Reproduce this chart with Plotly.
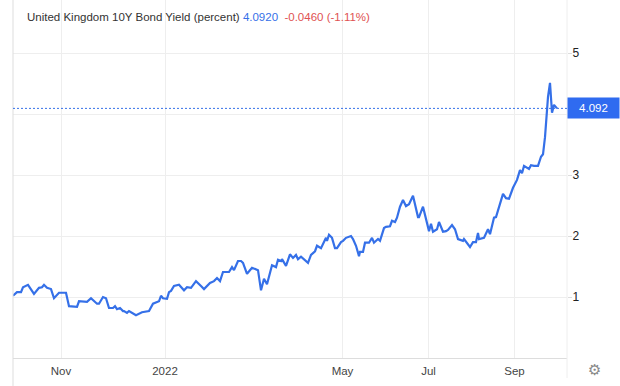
import plotly.graph_objects as go

# x = trading-session position along the axis, y = yield in percent
sessions = [0,2,4,5,7.5,10.5,13,14.5,15.5,17,19,20.5,23,25,26.5,28,30.5,32,33,37,39,42,43,45,46.5,48,50,51,52,53.5,55,55.5,57,58,61.5,64.5,68,70,73,74,75,77,78,79,80.5,83,85.5,87,89,91.5,94,95.5,98.5,100.5,102,103.5,105,108,109.5,110.5,112.5,114,115,117,119.5,121,122.5,124,125.5,127,129.5,131.5,132.5,134,134.5,136.5,138.5,140,141.5,142.5,144,147.5,149,151,152,154,156.5,157,158,159.5,161,162,164,165,166.5,169,170,171.5,173,173.5,175,176,178,179.5,180.5,182.5,183.5,185.5,186.5,188.5,189.5,191,192,193.5,195,196.5,198,200,202.5,203,205,208,209,210,212,213,215,216.5,217.5,219.5,221,222.5,225,225.5,227,228.5,230,231.5,232.5,233,235.5,237.5,238.5,240.5,241.5,243.5,245,246.5,248,250,251.5,252,253.5,254.5,255.5,258,259,260.5,262.5,264,265,266,267.5,268.5,269.5,270.5,272]
yields = [1.02,1.08,1.08,1.16,1.20,1.05,1.15,1.16,1.20,1.15,1.13,0.98,1.07,1.07,1.07,0.85,0.85,0.84,0.93,0.92,0.98,0.89,0.89,1.00,0.98,0.82,0.82,0.85,0.80,0.82,0.77,0.77,0.74,0.77,0.70,0.75,0.77,0.89,0.93,1.02,0.98,0.97,1.08,1.10,1.18,1.20,1.11,1.16,1.15,1.26,1.18,1.13,1.23,1.26,1.31,1.26,1.41,1.41,1.49,1.44,1.59,1.59,1.56,1.38,1.48,1.46,1.44,1.11,1.30,1.21,1.52,1.49,1.61,1.59,1.62,1.51,1.70,1.64,1.69,1.62,1.66,1.56,1.69,1.75,1.84,1.80,1.97,1.92,2.02,1.97,1.80,1.80,1.90,1.92,1.97,2.00,1.95,1.84,1.67,1.74,1.74,1.89,1.89,1.97,1.89,1.95,1.92,2.13,2.15,2.16,2.25,2.23,2.30,2.48,2.59,2.49,2.52,2.66,2.31,2.31,2.48,2.08,2.20,2.07,2.11,2.23,2.07,2.08,2.10,2.18,2.11,1.95,1.92,1.95,1.89,1.82,1.90,1.90,2.05,1.95,1.97,2.11,2.03,2.30,2.31,2.54,2.69,2.62,2.61,2.79,2.90,2.92,3.08,3.03,3.15,3.10,3.16,3.15,3.15,3.30,3.34,3.62,4.28,4.51,4.02,4.15,4.092]
x_tick_pos = [24,76,164.75,207.75,250.75]
x_tick_labels = ["Nov","2022","May","Jul","Sep"]
y_ticks = [1,2,3,4,5]
y_tick_labels = ["1","2","3","","5"]
title_name = "United Kingdom 10Y Bond Yield (percent)"
last_value = "4.0920"
change_text = "-0.0460 (-1.11%)"
badge_text = "4.092"

BLUE = "#3570e8"
GRID = "#eeeeee"
AXIS = "#dddddd"
FONT = "Liberation Sans, Arial, sans-serif"

fig = go.Figure(go.Scatter(x=sessions, y=yields, mode="lines",
                           line=dict(color=BLUE, width=2.2), hoverinfo="skip"))

fig.update_layout(
    width=620, height=386, autosize=False,
    margin=dict(l=13, r=53, t=0, b=28, pad=0),
    paper_bgcolor="white", plot_bgcolor="white", showlegend=False,
    font=dict(family=FONT, size=12, color="#333333"),
    xaxis=dict(range=[0,277], tickmode="array", tickvals=x_tick_pos, ticktext=x_tick_labels,
               showgrid=True, gridcolor=GRID, gridwidth=1, zeroline=False, showline=True,
               linecolor=AXIS, ticks="", ticklabelstandoff=2, tickfont=dict(size=11.5, color="#444444")),
    yaxis=dict(range=[0,5.869], side="right", tickmode="array", tickvals=y_ticks, ticktext=y_tick_labels,
               showgrid=True, gridcolor=GRID, gridwidth=1, zeroline=False, showline=False,
               ticks="outside", ticklen=4, tickcolor=AXIS, ticklabelstandoff=-2,
               tickfont=dict(size=12, color="#222222")),
    shapes=[
        dict(type="line", xref="paper", yref="paper", x0=0, x1=0, y0=-0.078, y1=1,
             line=dict(color=AXIS, width=1)),
        dict(type="line", xref="paper", yref="paper", x0=1, x1=1, y0=-0.056, y1=1,
             line=dict(color=GRID, width=1)),
        dict(type="line", xref="paper", yref="y", x0=0, x1=1, y0=float(badge_text), y1=float(badge_text),
             line=dict(color=BLUE, width=1, dash="2px,2px")),
    ],
    annotations=[
        dict(xref="paper", yref="paper", x=0.0217, y=1-17/358, xanchor="left", yanchor="middle",
             showarrow=False, align="left", font=dict(size=11.5, color="#333333"),
             text=title_name + f" <span style='color:#3570e8'>{last_value}</span>"
                  + f"  <span style='color:#e05252'>{change_text}</span>"),
        dict(xref="paper", yref="y", x=1.0, y=float(badge_text), xanchor="left", yanchor="middle",
             showarrow=False, text=badge_text, width=51, height=20, align="center",
             bgcolor="#2f6bf0", borderpad=0, font=dict(size=11.5, color="white")),
        dict(xref="paper", yref="paper", x=1.0505, y=-0.033, xanchor="center", yanchor="middle",
             showarrow=False, text="⚙", font=dict(size=15, color="#888888", family="DejaVu Sans")),
    ],
)
fig.write_html("out.html", config={"displayModeBar": False},
               post_script="document.body.style.margin='0';document.body.style.overflow='hidden';")
